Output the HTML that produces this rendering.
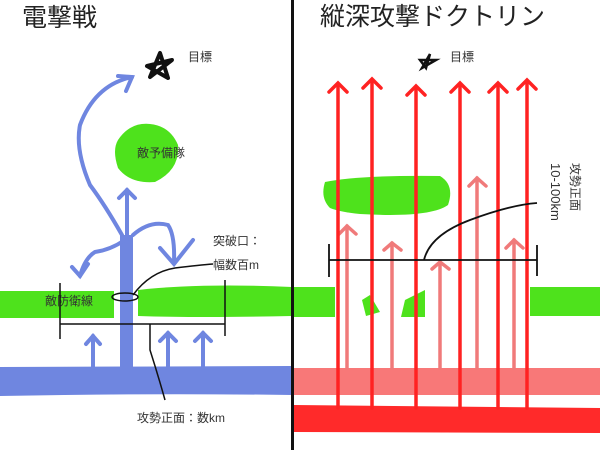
<!DOCTYPE html>
<html><head><meta charset="utf-8"><style>
html,body{margin:0;padding:0;background:#fff;}
svg{display:block;font-family:"Liberation Sans","Noto Sans CJK JP",sans-serif;}
</style></head><body>
<svg width="600" height="450" viewBox="0 0 600 450" xmlns="http://www.w3.org/2000/svg">
<rect width="600" height="450" fill="#fff"/>
<!-- LEFT -->
<text x="22" y="26" font-size="25" fill="#222">電撃戦</text>
<!-- green reserve -->
<path d="M118,140 Q130,122 150,124 Q170,126 178,145 Q180,170 155,182 Q130,184 118,168 Q112,150 118,140Z" fill="#4ee21c"/>
<text x="137" y="157" font-size="12" fill="#333">敵予備隊</text>
<!-- green line -->
<rect x="0" y="291" width="114" height="27" fill="#4ee21c"/>
<path d="M138,290 Q200,283 292,287 L292,316 Q200,318 138,316Z" fill="#4ee21c"/>
<text x="45" y="305" font-size="12" fill="#333">敵防衛線</text>
<!-- blue band -->
<path d="M0,367 L292,366 L292,395 Q150,393 0,396Z" fill="#6f86e0"/>
<rect x="120" y="235" width="13" height="135" fill="#6f86e0"/>
<g stroke="#6f86e0" stroke-width="4" fill="none" stroke-linecap="round">
<line x1="93" y1="367" x2="93" y2="336"/><path d="M86,344 L93,336 L100,344"/>
<line x1="168" y1="367" x2="168" y2="333"/><path d="M160,341 L168,333 L176,341"/>
<line x1="203" y1="367" x2="203" y2="333"/><path d="M195,341 L203,333 L211,341"/>
<line x1="127" y1="240" x2="127" y2="190"/><path d="M119,198 L127,190 L135,198"/>
<path d="M122,235 Q105,205 90,185 Q75,150 80,125 Q95,85 132,77"/><path d="M118,76 L132,77 L126,91"/>
<path d="M125,240 Q110,250 95,252 Q85,258 80,276"/><path d="M72,267 L80,276 L88,264"/>
<path d="M133,235 Q150,220 168,225 Q175,235 174,262"/><path d="M160,248 L174,264 L193,240"/>
</g>
<!-- star -->
<path d="M147,66 L172,60 L150,77 L160,53 L168,78Z" fill="none" stroke="#111" stroke-width="4" stroke-linejoin="round"/>
<text x="188" y="61" font-size="12" fill="#333">目標</text>
<!-- breach -->
<ellipse cx="125" cy="297" rx="13" ry="4" fill="none" stroke="#111" stroke-width="1.5"/>
<path d="M133,295 Q150,272 175,268 Q200,265 213,264" fill="none" stroke="#111" stroke-width="1.5"/>
<text x="213" y="245" font-size="12" fill="#333">突破口：</text>
<text x="213" y="269" font-size="12" fill="#333">幅数百m</text>
<!-- bracket -->
<g stroke="#111" stroke-width="1.5" fill="none">
<line x1="60" y1="324" x2="225" y2="324"/><line x1="60" y1="283" x2="60" y2="339"/><line x1="225" y1="280" x2="225" y2="336"/>
<path d="M150,324 L150,350 Q158,375 165,400"/>
</g>
<text x="137" y="422" font-size="12" fill="#333">攻勢正面：数km</text>
<!-- divider -->
<rect x="291" y="0" width="3" height="450" fill="#111"/>
<!-- RIGHT -->
<text x="320" y="25" font-size="25" fill="#222">縦深攻撃ドクトリン</text>
<path d="M430,54 L422,68 L436,60 L420,60 L426,68 Z" fill="none" stroke="#111" stroke-width="2.5"/>
<text x="450" y="61" font-size="12" fill="#333">目標</text>
<path d="M325,182 Q360,175 440,176 Q455,185 448,205 Q430,218 360,214 Q340,212 330,208 Q320,198 325,182Z" fill="#4ee21c"/>
<rect x="294" y="287" width="41" height="30" fill="#4ee21c"/>
<path d="M362,300 L370,295 L380,312 L366,316Z" fill="#4ee21c"/>
<path d="M401,317 L405,300 L425,290 L425,317Z" fill="#4ee21c"/>
<rect x="530" y="287" width="70" height="29" fill="#4ee21c"/>
<rect x="294" y="368" width="306" height="27" fill="#f87878"/>
<path d="M294,405 L600,408 L600,433 L294,432Z" fill="#ff2a2a"/>
<g stroke="#f07a7a" stroke-width="3.5" fill="none" stroke-linecap="round">
<line x1="347" y1="368" x2="347" y2="226"/><path d="M339,234 L347,226 L356,234"/>
<line x1="392" y1="368" x2="392" y2="243"/><path d="M384,250 L392,243 L401,250"/>
<line x1="440" y1="368" x2="440" y2="262"/><path d="M432,269 L440,262 L449,269"/>
<line x1="477" y1="368" x2="477" y2="178"/><path d="M469,186 L477,178 L486,186"/>
<line x1="514" y1="368" x2="514" y2="240"/><path d="M506,248 L514,240 L523,248"/>
</g>
<g stroke="#f22" stroke-width="3.5" fill="none" stroke-linecap="round">
<line x1="338" y1="408" x2="338" y2="84"/><path d="M329,92 L338,83 L347,92"/>
<line x1="372" y1="408" x2="372" y2="80"/><path d="M363,88 L372,79 L381,88"/>
<line x1="416" y1="408" x2="416" y2="87"/><path d="M407,95 L416,86 L425,95"/>
<line x1="460" y1="408" x2="460" y2="84"/><path d="M451,92 L460,83 L469,92"/>
<line x1="498" y1="408" x2="498" y2="84"/><path d="M489,92 L498,83 L507,92"/>
<line x1="527" y1="408" x2="527" y2="81"/><path d="M518,89 L527,80 L536,89"/>
</g>
<g stroke="#111" stroke-width="1.8" fill="none">
<line x1="329" y1="260" x2="537" y2="260"/><line x1="329" y1="244" x2="329" y2="277"/><line x1="537" y1="245" x2="537" y2="276"/>
<path d="M424,260 Q430,235 470,220 Q510,205 537,203"/>
</g>
<text transform="translate(571,163) rotate(90)" font-size="12" fill="#333">攻勢正面</text>
<text transform="translate(551,163) rotate(90)" font-size="13" fill="#333">10-100km</text>
</svg>
</body></html>
